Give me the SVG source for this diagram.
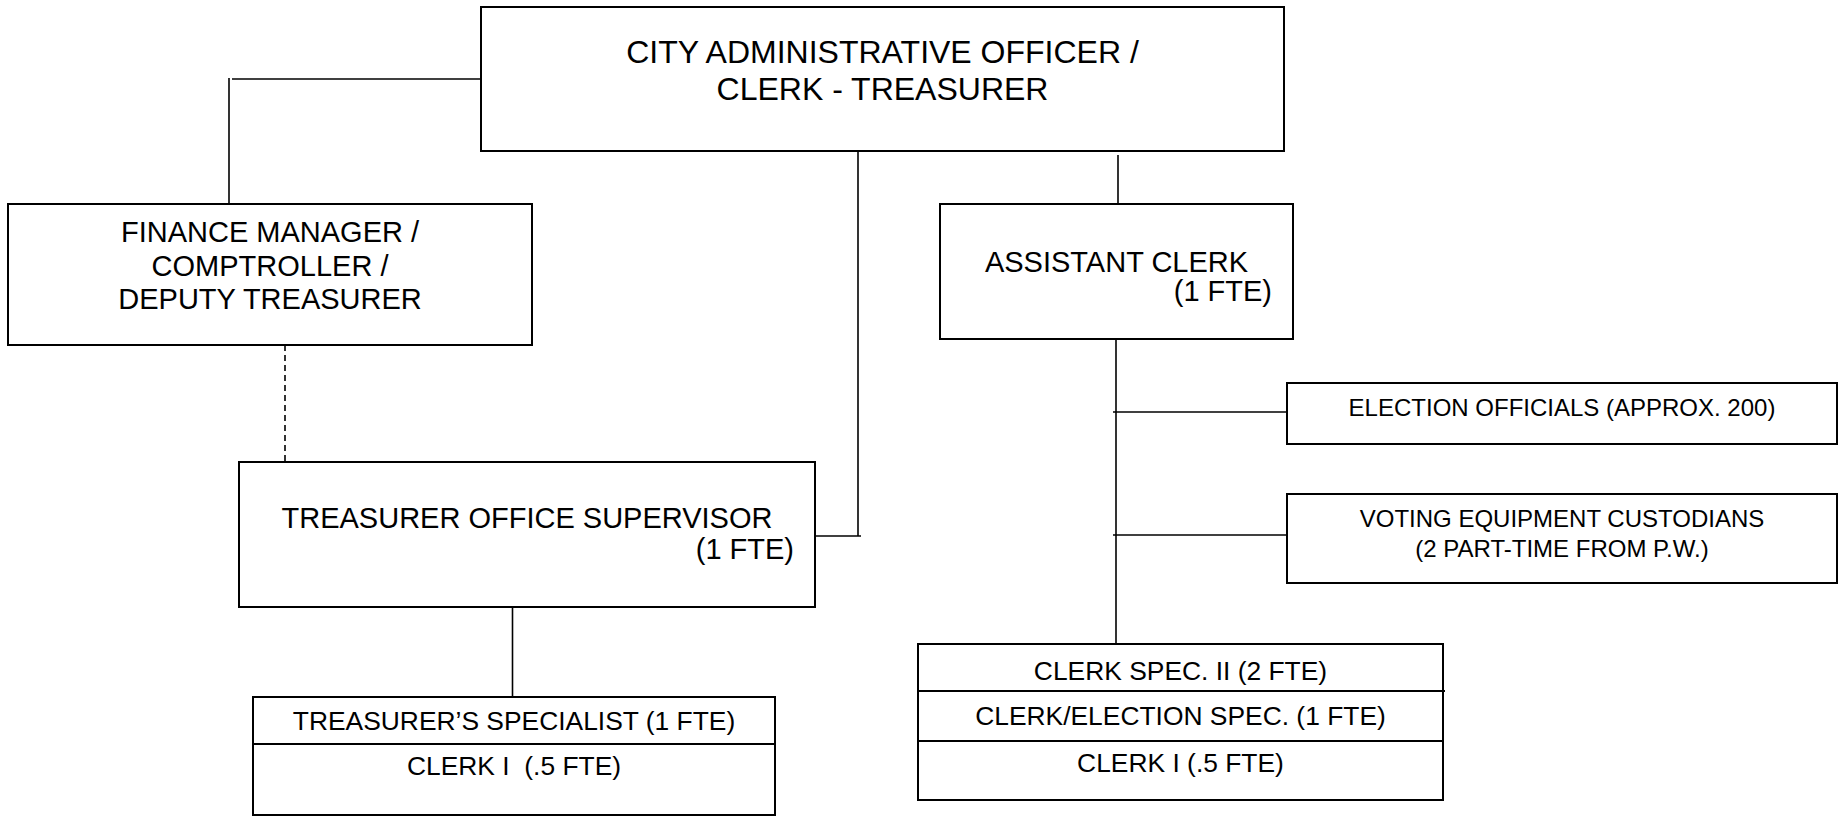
<svg xmlns="http://www.w3.org/2000/svg" width="1839" height="816" viewBox="0 0 1839 816">
<style>
.box{fill:#fff;stroke:#000;stroke-width:2}
.div{stroke:#000;stroke-width:2;fill:none}
.con{stroke:#000;stroke-width:1.6;fill:none}
.dash{stroke:#000;stroke-width:1.6;fill:none;stroke-dasharray:6 4}
text{font-family:"Liberation Sans",Arial,Helvetica,sans-serif;fill:#000}
.t32{font-size:32px;text-anchor:middle}
.t29{font-size:29px;text-anchor:middle}
.t29e{font-size:29px;text-anchor:end}
.t26{font-size:26.4px;text-anchor:middle}
.t24{font-size:24px;text-anchor:middle}
</style>
<rect width="1839" height="816" fill="#fff"/>
<g id="connectors">
<line class="con" x1="229" y1="78" x2="229" y2="204"/>
<line class="con" x1="232" y1="79" x2="481" y2="79"/>
<line class="dash" x1="285" y1="345" x2="285" y2="462"/>
<line class="con" x1="858" y1="150" x2="858" y2="536"/>
<line class="con" x1="815" y1="536" x2="861" y2="536"/>
<line class="con" x1="1118" y1="155" x2="1118" y2="204"/>
<line class="con" x1="1116" y1="339" x2="1116" y2="644"/>
<line class="con" x1="1113" y1="412" x2="1287" y2="412"/>
<line class="con" x1="1113" y1="535" x2="1287" y2="535"/>
<line class="con" x1="512.5" y1="607" x2="512.5" y2="697"/>
</g>
<g id="cao">
<rect class="box" x="481" y="7" width="803" height="144"/>
<text class="t32" x="882.5" y="63">CITY ADMINISTRATIVE OFFICER /</text>
<text class="t32" x="882.5" y="100">CLERK - TREASURER</text>
</g>
<g id="finance">
<rect class="box" x="8" y="204" width="524" height="141"/>
<text class="t29" x="270" y="242">FINANCE MANAGER /</text>
<text class="t29" x="270" y="276">COMPTROLLER /</text>
<text class="t29" x="270" y="309">DEPUTY TREASURER</text>
</g>
<g id="tos">
<rect class="box" x="239" y="462" width="576" height="145"/>
<text class="t29" x="527" y="528">TREASURER OFFICE SUPERVISOR</text>
<text class="t29e" x="794" y="559">(1 FTE)</text>
</g>
<g id="asst">
<rect class="box" x="940" y="204" width="353" height="135"/>
<text class="t29" x="1116.5" y="272">ASSISTANT CLERK</text>
<text class="t29e" x="1272" y="301">(1 FTE)</text>
</g>
<g id="election">
<rect class="box" x="1287" y="383" width="550" height="61"/>
<text class="t24" x="1562" y="416">ELECTION OFFICIALS (APPROX. 200)</text>
</g>
<g id="voting">
<rect class="box" x="1287" y="494" width="550" height="89"/>
<text class="t24" x="1562" y="527">VOTING EQUIPMENT CUSTODIANS</text>
<text class="t24" x="1562" y="557">(2 PART-TIME FROM P.W.)</text>
</g>
<g id="treasurer-staff">
<rect class="box" x="253" y="697" width="522" height="118"/>
<line class="div" x1="253" y1="744" x2="775" y2="744"/>
<text class="t26" x="514" y="730">TREASURER’S SPECIALIST (1 FTE)</text>
<text class="t26" x="514" y="775" xml:space="preserve">CLERK I  (.5 FTE)</text>
</g>
<g id="clerk-staff">
<rect class="box" x="918" y="644" width="525" height="156"/>
<line class="div" x1="917" y1="691" x2="1445" y2="691"/>
<line class="div" x1="917" y1="741" x2="1443" y2="741"/>
<text class="t26" x="1180.5" y="680">CLERK SPEC. II (2 FTE)</text>
<text class="t26" x="1180.5" y="725">CLERK/ELECTION SPEC. (1 FTE)</text>
<text class="t26" x="1180.5" y="772">CLERK I (.5 FTE)</text>
</g>
</svg>
